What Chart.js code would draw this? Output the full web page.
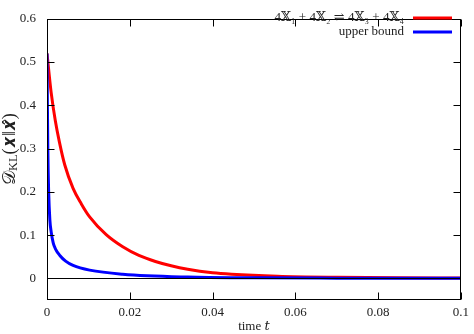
<!DOCTYPE html>
<html><head><meta charset="utf-8">
<script src="https://cdn.jsdelivr.net/npm/chart.js@4"></script>
<style>html,body{margin:0;padding:0;background:#fff}#wrap{width:474px;height:334px}</style>
</head><body><div id="wrap"><canvas id="c" width="474" height="334"></canvas></div>
<script>
const seriesLabels = ['4𝕏₁ + 4𝕏₂ ⇌ 4𝕏₃ + 4𝕏₄', 'upper bound'];
const redT = [0, 0.001, 0.002, 0.003, 0.0043, 0.0063, 0.0083, 0.0103, 0.0143, 0.0183, 0.0222, 0.0262, 0.030, 0.034, 0.040, 0.0446, 0.0557, 0.070, 0.085, 0.1];
const redY = [0.52, 0.43, 0.365, 0.315, 0.262, 0.208, 0.172, 0.142, 0.101, 0.073, 0.053, 0.039, 0.029, 0.021, 0.013, 0.0096, 0.005, 0.0025, 0.0012, 0.0006];
const blueT = [0, 0.0001, 0.0002, 0.0004, 0.0007, 0.001, 0.0015, 0.002, 0.0031, 0.0045, 0.0063, 0.0103, 0.0183, 0.034, 0.05, 0.07, 0.1];
const blueY = [0.52, 0.40, 0.30, 0.20, 0.134, 0.108, 0.082, 0.069, 0.053, 0.040, 0.030, 0.019, 0.0096, 0.003, 0.0012, 0.0005, 0.0002];
const xTicks = [0, 0.02, 0.04, 0.06, 0.08, 0.1];
const yTicks = [0, 0.1, 0.2, 0.3, 0.4, 0.5, 0.6];
const colors = ['#ff0000', '#0000ff'];
const xTitle = 'time 𝑡';

const FONT = '"Liberation Serif", "DejaVu Serif", serif';
const toPts = (xs, ys) => xs.map((x, i) => ({x, y: ys[i]}));

function fitSize(ctx, text, target, base) {
  ctx.font = base + 'px ' + FONT;
  const w = ctx.measureText(text).width;
  return base * target / w;
}

const frame = {
  id: 'frame',
  afterDatasetsDraw(chart) {
    const {ctx, chartArea: a, scales: {y}} = chart;
    ctx.save();
    ctx.strokeStyle = '#000';
    ctx.lineWidth = 1;
    const y0 = Math.round(y.getPixelForValue(0)) + 0.5;
    ctx.beginPath(); ctx.moveTo(a.left, y0); ctx.lineTo(a.right, y0); ctx.stroke();
    ctx.restore();
  },
  afterDraw(chart) {
    const {ctx, chartArea: a, scales: {x, y}} = chart;
    ctx.save();
    ctx.strokeStyle = '#000';
    ctx.lineWidth = 1;
    const L = Math.round(a.left) + 0.5, R = Math.round(a.right) - 0.5, T = Math.round(a.top) + 0.5, B = Math.round(a.bottom) - 0.5;
    ctx.strokeRect(L, T, R - L, B - T);
    const tl = 7;
    ctx.beginPath();
    xTicks.forEach(v => {
      const px = Math.round(x.getPixelForValue(v)) + 0.5;
      ctx.moveTo(px, B); ctx.lineTo(px, B - tl);
      ctx.moveTo(px, T); ctx.lineTo(px, T + tl);
    });
    yTicks.forEach(v => {
      const py = Math.round(y.getPixelForValue(v)) + 0.5;
      ctx.moveTo(L, py); ctx.lineTo(L + tl, py);
      ctx.moveTo(R, py); ctx.lineTo(R - tl, py);
    });
    ctx.stroke();
    // legend
    const targets = [146, 77];
    const rows = [18, 32];
    ctx.fillStyle = '#222';
    ctx.textAlign = 'right';
    ctx.textBaseline = 'middle';
    seriesLabels.forEach((s, i) => {
      const fs = Math.min(13, fitSize(ctx, s, targets[i], 13));
      ctx.font = fs + 'px ' + FONT;
      ctx.fillText(s, 404, rows[i]);
      ctx.strokeStyle = colors[i];
      ctx.lineWidth = 3;
      ctx.beginPath(); ctx.moveTo(413, rows[i]); ctx.lineTo(452, rows[i]); ctx.stroke();
    });
    // y title
    ctx.save();
    ctx.translate(10, 149);
    ctx.rotate(-Math.PI / 2);
    ctx.fillStyle = '#222';
    ctx.textBaseline = 'middle';
    ctx.textAlign = 'left';
    const parts = [['𝒟', 14, 0], ['KL', 9.5, 3], ['(𝒙‖𝒙̂)', 14, 0]];
    let total = 0;
    parts.forEach(p => { ctx.font = p[1] + 'px ' + FONT; total += ctx.measureText(p[0]).width; });
    const k = Math.min(1.4, 72 / total);
    let cx = -72 / 2;
    parts.forEach(p => { ctx.font = (p[1] * k) + 'px ' + FONT; ctx.fillText(p[0], cx, p[2] * k); cx += ctx.measureText(p[0]).width; });
    ctx.restore();
    ctx.restore();
  }
};

new Chart(document.getElementById('c'), {
  type: 'line',
  data: {
    datasets: [
      {label: seriesLabels[0], data: toPts(redT, redY), borderColor: colors[0], borderWidth: 3, pointRadius: 0, cubicInterpolationMode: 'monotone', order: 1},
      {label: seriesLabels[1], data: toPts(blueT, blueY), borderColor: colors[1], borderWidth: 3, pointRadius: 0, cubicInterpolationMode: 'monotone', order: 0}
    ]
  },
  options: {
    responsive: false,
    animation: false,
    devicePixelRatio: 1,
    layout: {padding: {top: 6, right: 9, left: 0, bottom: 0}},
    plugins: {legend: {display: false}, tooltip: {enabled: false}},
    scales: {
      x: {
        type: 'linear', min: 0, max: 0.1,
        afterBuildTicks: s => { s.ticks = xTicks.map(v => ({value: v})); },
        afterFit: s => { s.height = 34; },
        grid: {display: false, drawTicks: false},
        border: {display: false},
        ticks: {font: {family: FONT, size: 13}, color: '#222', padding: 5, maxRotation: 0,
                callback: v => String(v)},
        title: {display: true, text: xTitle, font: {family: FONT, size: 13}, color: '#222', padding: {top: 0, bottom: 0}}
      },
      y: {
        type: 'linear', min: -0.05, max: 0.6,
        afterBuildTicks: s => { s.ticks = yTicks.map(v => ({value: v})); },
        afterFit: s => { s.width = 47; },
        grid: {display: false, drawTicks: false},
        border: {display: false},
        ticks: {font: {family: FONT, size: 13}, color: '#222', padding: 11, callback: v => String(v)}
      }
    }
  },
  plugins: [frame]
});
</script></body></html>
